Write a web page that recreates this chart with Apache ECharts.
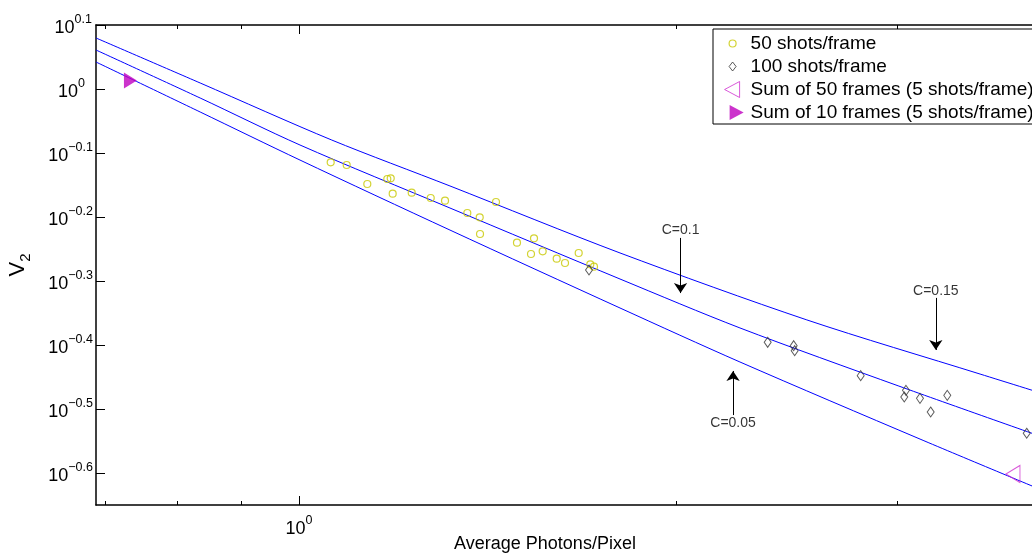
<!DOCTYPE html>
<html><head><meta charset="utf-8">
<script src="https://cdn.jsdelivr.net/npm/echarts@6.0.0/dist/echarts.min.js"></script>
<style>html,body{margin:0;padding:0;background:#fff}#chart{width:1032px;height:558px}</style>
</head><body><div id="chart"></div>
<script>
const shots50X = [1.0599,1.0915,1.1336,1.1760,1.1834,1.1877,1.2299,1.2736,1.3075,1.3621,1.3935,1.3943,1.4358,1.4922,1.5396,1.5311,1.5643,1.6051,1.6298,1.6713,1.7073,1.7189];
const shots50Y = [0.7682,0.7608,0.7105,0.7234,0.7252,0.6861,0.6886,0.6756,0.6691,0.6401,0.6302,0.5935,0.6660,0.5752,0.5844,0.5523,0.5577,0.5431,0.5347,0.5543,0.5322,0.5276];
const shots100X = [1.7032,2.3646,2.4802,2.4848,2.8050,3.0482,3.0387,3.1276,3.1897,3.2884,3.8048];
const shots100Y = [0.5214,0.4020,0.3971,0.3900,0.3565,0.3382,0.3302,0.3286,0.3128,0.3322,0.2898];
const sum50X = [3.710];
const sum50Y = [0.2503];
const sum10X = [0.7338];
const sum10Y = [1.031];
const curveC015X = [0.6888,0.8340,1.0619,1.3194,1.8030,2.5410,3.4927,4.0];
const curveC015Y = [1.2015,1.0219,0.8323,0.7055,0.5544,0.4357,0.3586,0.3301];
const curveC010X = [0.6888,0.8340,1.0018,1.3194,1.8030,2.2472,3.0089,4.0];
const curveC010Y = [1.1506,0.9681,0.8175,0.6517,0.5048,0.4233,0.3434,0.2818];
const curveC005X = [0.6888,0.8340,1.0018,1.3194,1.8030,2.2472,3.1279,4.0];
const curveC005Y = [1.1020,0.9206,0.7744,0.6020,0.4548,0.3745,0.2838,0.2320];
const annotationLabels = ['C=0.05','C=0.1','C=0.15'];
const annotationX = [2.219,2.015,3.22];
const annotationTextY = [0.3007,0.602,0.4837];
const arrowFromY = [0.3094,0.5852,0.4716];
const arrowToY = [0.3626,0.4799,0.3911];
const legendNames = ['50 shots/frame','100 shots/frame','Sum of 50 frames (5 shots/frame)','Sum of 10 frames (5 shots/frame)'];
const xRange = [0.6888, 3.842];
const yExpRange = [-0.65, 0.1];
const xMajorTicks = [1];
const xMinorTicks = [0.7,0.8,0.9,2,3];
const yTickExponents = [-0.6,-0.5,-0.4,-0.3,-0.2,-0.1,0,0.1];

// ---------- chart ----------
const L = Math.log10;
const FONT = '"Liberation Sans", Arial, Helvetica, sans-serif';
const pairs = (xs, ys) => xs.map((x, i) => [L(x), L(ys[i])]);
const xMin = L(xRange[0]), xMax = L(xRange[1]);
const expVal = v => Math.round(v * 10) / 10;
const expStr = v => { const e = expVal(v); return e === 0 ? '0' : (e < 0 ? '\u2212' + Math.abs(e).toFixed(1) : e.toFixed(1)); };
const powRich = {
  b: {fontSize: 18, fontFamily: FONT, color: '#000', lineHeight: 24, verticalAlign: 'bottom'},
  s: {fontSize: 12.5, fontFamily: FONT, color: '#000', lineHeight: 8, verticalAlign: 'top'},
  z: {fontSize: 12.5, fontFamily: FONT, color: '#000', lineHeight: 8, verticalAlign: 'top', padding: [0, 8, 0, 0]},
  p: {fontSize: 12.5, fontFamily: FONT, color: '#000', lineHeight: 8, verticalAlign: 'top', padding: [0, 1, 0, 0]}
};
const yLabelFmt = v => { const e = expVal(v); const k = e === 0 ? 'z' : (e > 0 ? 'p' : 's'); return '{b|10}{' + k + '|' + expStr(v) + '}'; };
const axisLineStyle = {color: '#000', width: 1.5};
function xAx(pos, ticks, len, showLine, labels) {
  return {
    type: 'value', position: pos, min: xMin, max: xMax, gridIndex: 0,
    axisLine: {show: showLine, onZero: false, lineStyle: axisLineStyle},
    axisTick: {show: true, inside: true, length: len, customValues: ticks.map(L), lineStyle: {color: '#000', width: 1}},
    axisLabel: labels ? {show: true, customValues: [0], margin: 9, formatter: v => '{b|10}{s|' + expStr(v) + '}', rich: powRich} : {show: false},
    splitLine: {show: false}
  };
}
const xAxes = [
  xAx('bottom', xMajorTicks, 9, true, true),
  xAx('bottom', xMinorTicks, 4, false, false),
  xAx('top', xMajorTicks, 9, true, false),
  xAx('top', xMinorTicks, 4, false, false)
];
xAxes[0].name = 'Average Photons/Pixel';
xAxes[0].nameLocation = 'middle';
xAxes[0].nameGap = 30;
xAxes[0].nameMoveOverlap = false;
xAxes[0].nameTextStyle = {fontSize: 18, fontFamily: FONT, color: '#000', padding: [0, 38, 0, 0]};

const yAxes = [{
  type: 'value', position: 'left', min: yExpRange[0], max: yExpRange[1],
  axisLine: {show: true, onZero: false, lineStyle: axisLineStyle},
  axisTick: {show: true, inside: true, length: 9, customValues: yTickExponents, lineStyle: {color: '#000', width: 1}},
  axisLabel: {show: true, customValues: yTickExponents, margin: 3, align: 'right', formatter: yLabelFmt, rich: powRich},
  splitLine: {show: false},
  name: '{v|V}{s|2}', nameLocation: 'middle', nameRotate: 90, nameGap: 63, nameMoveOverlap: false,
  nameTextStyle: {rich: {
    v: {fontSize: 22, fontFamily: FONT, color: '#000', lineHeight: 26, verticalAlign: 'top'},
    s: {fontSize: 15, fontFamily: FONT, color: '#000', lineHeight: 12, verticalAlign: 'bottom'}
  }}
}];

const curveStyle = {color: '#0000ff', width: 1};
function curve(name, xs, ys) {
  return {name, type: 'line', data: pairs(xs, ys), showSymbol: false, symbol: 'none', smooth: 0.3,
          lineStyle: curveStyle, itemStyle: {color: '#0000ff'}, silent: true, z: 2};
}
const leftTri = 'path://M0 8.5L14 0L14 17Z';
const rightTri = 'path://M0 0L13 8L0 16Z';

const option = {
  backgroundColor: '#fff',
  animation: false,
  grid: {left: 96, top: 25, right: 0, bottom: 53, containLabel: false, outerBoundsMode: 'none'},
  xAxis: xAxes,
  yAxis: yAxes,
  legend: {
    orient: 'vertical', left: 713, top: 29, padding: [5, 10, 2, 6], itemGap: 4,
    itemWidth: 26, itemHeight: 16, selectedMode: false,
    backgroundColor: '#fff', borderColor: '#000', borderWidth: 1, borderRadius: 0,
    textStyle: {fontSize: 19, fontFamily: FONT, color: '#000', lineHeight: 19},
    data: [
      {name: legendNames[0], icon: 'path://M0 0M26 16M16.5 8A3.5 3.5 0 1 1 9.5 8A3.5 3.5 0 1 1 16.5 8Z',
       itemStyle: {color: 'rgba(0,0,0,0)', borderColor: '#c8c800', borderWidth: 1.2}},
      {name: legendNames[1], icon: 'path://M0 0M26 16M13 3.5L16.5 8L13 12.5L9.5 8Z',
       itemStyle: {color: 'rgba(0,0,0,0)', borderColor: '#333', borderWidth: 1}},
      {name: legendNames[2], icon: 'path://M0 0M26 16M5 8L20 0L20 16Z',
       itemStyle: {color: 'rgba(0,0,0,0)', borderColor: '#d030d0', borderWidth: 1}},
      {name: legendNames[3], icon: 'path://M0 0M26 16M10 0.5L24 8L10 15.5Z',
       itemStyle: {color: '#bf00bf', borderWidth: 0}}
    ]
  },
  series: [
    curve('C=0.15 curve', curveC015X, curveC015Y),
    curve('C=0.1 curve', curveC010X, curveC010Y),
    curve('C=0.05 curve', curveC005X, curveC005Y),
    {name: legendNames[0], type: 'scatter', data: pairs(shots50X, shots50Y), symbol: 'circle', symbolSize: 7,
     itemStyle: {color: 'rgba(0,0,0,0)', borderColor: '#c8c800', borderWidth: 1.2}, z: 3},
    {name: legendNames[1], type: 'scatter', data: pairs(shots100X, shots100Y), symbol: 'diamond', symbolSize: [7, 10],
     itemStyle: {color: 'rgba(0,0,0,0)', borderColor: '#333', borderWidth: 1}, z: 3},
    {name: legendNames[2], type: 'scatter', data: pairs(sum50X, sum50Y), symbol: leftTri, symbolSize: [14, 17],
     itemStyle: {color: 'rgba(0,0,0,0)', borderColor: '#d030d0', borderWidth: 1}, z: 3},
    {name: legendNames[3], type: 'scatter', data: pairs(sum10X, sum10Y), symbol: rightTri, symbolSize: [13, 16],
     itemStyle: {color: '#bf00bf'}, z: 3},
    {name: 'annotations', type: 'scatter', symbol: 'circle', symbolSize: 0, silent: true, z: 4,
     data: annotationLabels.map((t, i) => ({name: t, value: [L(annotationX[i]), L(annotationTextY[i])]})),
     label: {show: true, position: [0, 0], align: 'center', verticalAlign: 'middle', formatter: '{b}', fontSize: 14, fontFamily: FONT, color: '#000'},
     markLine: {
       silent: true, symbol: ['none', 'arrow'], symbolSize: 10,
       lineStyle: {color: '#000', width: 1, type: 'solid'}, label: {show: false},
       data: annotationLabels.map((t, i) => [
         {coord: [L(annotationX[i]), L(arrowFromY[i])]},
         {coord: [L(annotationX[i]), L(arrowToY[i])]}
       ])
     }}
  ]
};
const chart = echarts.init(document.getElementById('chart'), null, {renderer: 'canvas'});
chart.setOption(option);
</script></body></html>
